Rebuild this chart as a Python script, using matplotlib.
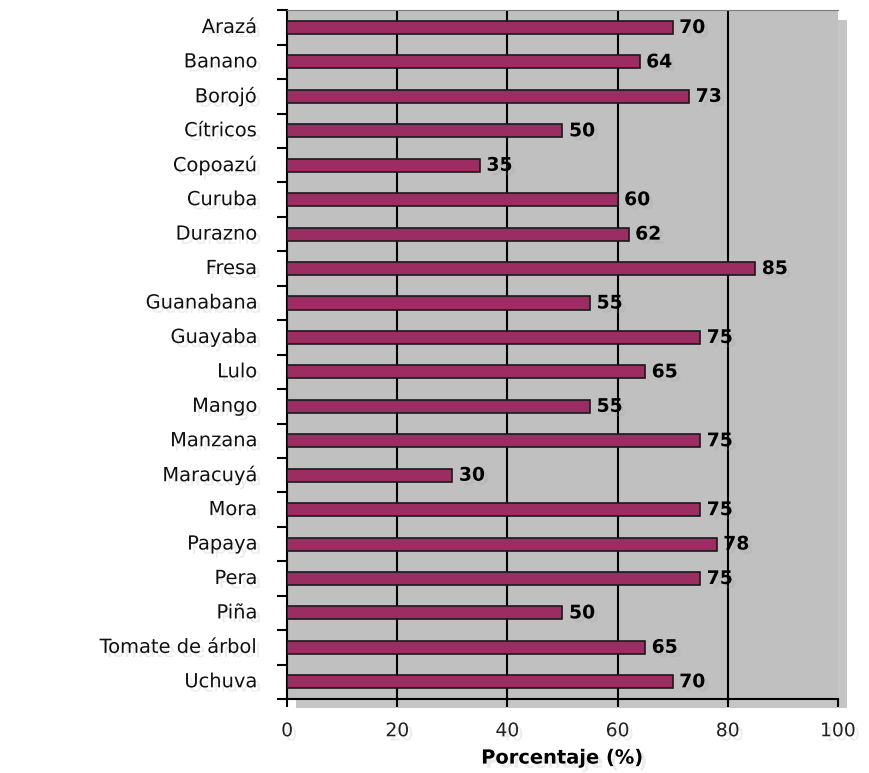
import matplotlib.pyplot as plt
import matplotlib.patheffects as pe
from matplotlib.patches import Rectangle
import numpy as np

# Porcentaje por fruta
frutas = ['Arazá', 'Banano', 'Borojó', 'Cítricos', 'Copoazú', 'Curuba',
          'Durazno', 'Fresa', 'Guanabana', 'Guayaba', 'Lulo', 'Mango',
          'Manzana', 'Maracuyá', 'Mora', 'Papaya', 'Pera', 'Piña',
          'Tomate de árbol', 'Uchuva']
valores = [70, 64, 73, 50, 35, 60, 62, 85, 55, 75, 65, 55, 75, 30, 75, 78,
           75, 50, 65, 70]
xticks = [0, 20, 40, 60, 80, 100]

sombra = [pe.withSimplePatchShadow(offset=(3, -3), shadow_rgbFace='#a0a0a0', alpha=0.2)]

fig = plt.figure(figsize=(8.7, 7.73), dpi=100)
pos = [0.330, 0.0957, 0.633, 0.891]
ax = fig.add_axes(pos)
ax.set_zorder(2)

# sombra del area del grafico
fig.patches.append(Rectangle((pos[0] + 0.010, pos[1] - 0.012), pos[2], pos[3],
                             transform=fig.transFigure, facecolor='#8c8c8c',
                             alpha=0.5, edgecolor='none', zorder=0))

n = len(frutas)
y = np.arange(n)
ax.set_facecolor('#C0C0C0')
ax.barh(y, valores, height=0.38, color='#9B2D62', edgecolor='#1a1a1a',
        linewidth=1.2, zorder=3)

for yi, v in zip(y, valores):
    ax.text(v + 1.2, yi, str(v), va='center', ha='left', fontsize=13.5,
            fontweight='bold', color='black', path_effects=sombra)

ax.set_xlim(0, 100)
ax.set_ylim(n - 0.5, -0.5)
for g in xticks[1:-1]:
    ax.axvline(g, color='black', linewidth=1.5, zorder=2)

ax.set_xticks(xticks)
ax.set_xticklabels([str(t) for t in xticks], fontsize=13.5, color='#222222')
for lab in ax.get_xticklabels():
    lab.set_path_effects(sombra)
ax.tick_params(axis='x', length=6, width=1.5, direction='out', pad=10)

# marcas del eje y entre categorias
ax.set_yticks(np.arange(-0.5, n, 1.0))
ax.set_yticklabels([])
ax.tick_params(axis='y', length=7, width=1.5, direction='out')
for yi, f in zip(y, frutas):
    ax.text(-5.4, yi, f, ha='right', va='center', fontsize=14,
            color='#111111', path_effects=sombra)

ax.spines['left'].set_linewidth(1.5)
ax.spines['bottom'].set_linewidth(1.5)
ax.spines['top'].set_color('#7a7a7a')
ax.spines['right'].set_visible(False)

ax.set_xlabel('Porcentaje (%)', fontsize=14, fontweight='bold', labelpad=6)
ax.xaxis.label.set_path_effects(sombra)

fig.savefig('out.png', dpi=100)
